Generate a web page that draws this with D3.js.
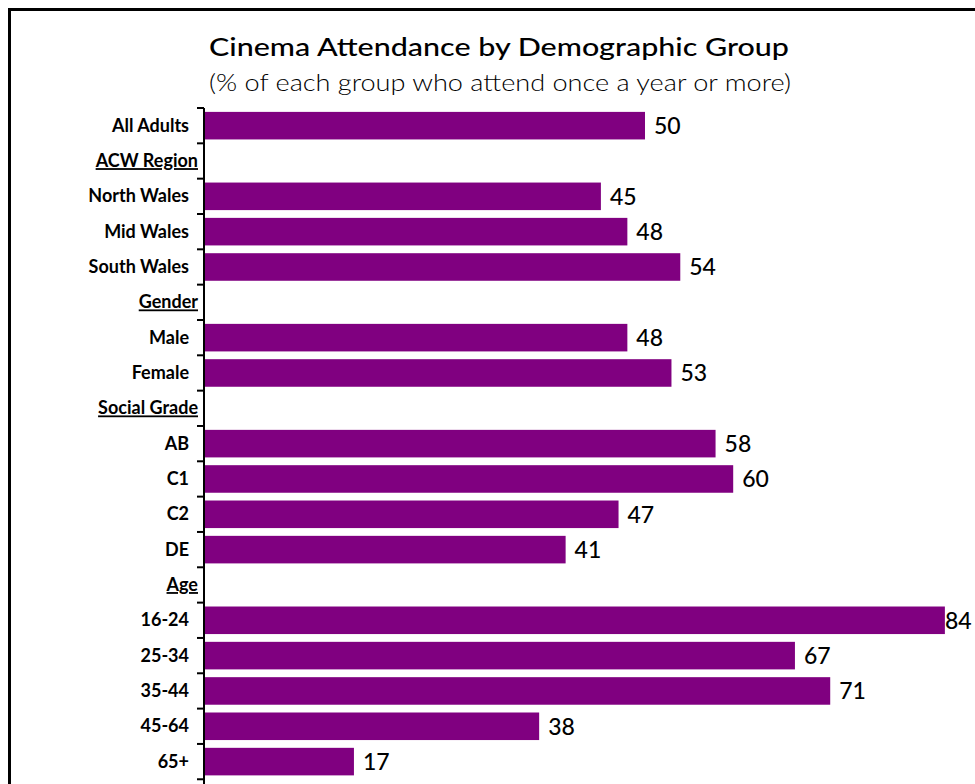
<!DOCTYPE html>
<html>
<head>
<meta charset="utf-8">
<script src="https://cdn.jsdelivr.net/npm/d3@7"></script>
<style>
  html, body { margin: 0; padding: 0; background: #fff; }
  svg { display: block; }
  text { font-family: Lato, "Open Sans", sans-serif; fill: #000; }
</style>
</head>
<body>
<script>
// Categories top to bottom; section headers carry no value
const categories = [
  "All Adults", "ACW Region", "North Wales", "Mid Wales", "South Wales",
  "Gender", "Male", "Female",
  "Social Grade", "AB", "C1", "C2", "DE",
  "Age", "16-24", "25-34", "35-44", "45-64", "65+"
];
const headers = ["ACW Region", "Gender", "Social Grade", "Age"];
// % of each group attending once a year or more (null = header row)
const values = [
  50, null, 45, 48, 54,
  null, 48, 53,
  null, 58, 60, 47, 41,
  null, 84, 67, 71, 38, 17
];
const titleText = "Cinema Attendance by Demographic Group";
const subtitleText = "(% of each group who attend once a year or more)";

(function draw() {
  const W = 975, H = 784;
  const svg = d3.select("body").append("svg").attr("width", W).attr("height", H);

  // Outer frame (extends past the visible area on the right and bottom)
  svg.append("rect")
    .attr("x", 9.5).attr("y", 9.5)
    .attr("width", W + 20).attr("height", H + 20)
    .attr("fill", "none").attr("stroke", "#000").attr("stroke-width", 3);

  svg.append("text")
    .attr("x", 209).attr("y", 56)
    .attr("font-size", 25).attr("font-weight", 500)
    .attr("textLength", 580).attr("lengthAdjust", "spacingAndGlyphs")
    .text(titleText);
  svg.append("text")
    .attr("x", 209).attr("y", 91)
    .attr("font-size", 24).attr("font-weight", 300)
    .attr("textLength", 582).attr("lengthAdjust", "spacingAndGlyphs")
    .text(subtitleText);

  const x0 = 204;
  const x = d3.scaleLinear().domain([0, 100]).range([x0, x0 + 882]);
  const y = d3.scaleBand().domain(categories).range([108, 108 + 19 * 35.33])
    .paddingInner(0.22).paddingOuter(0.11);

  const rows = categories.map((c, i) => ({ cat: c, v: values[i] }));

  // Bars
  svg.append("g").selectAll("rect")
    .data(rows.filter(d => d.v !== null))
    .join("rect")
    .attr("x", x(0))
    .attr("y", d => y(d.cat))
    .attr("width", d => x(d.v) - x(0))
    .attr("height", y.bandwidth())
    .attr("fill", "#800080");

  // Category axis: line with ticks at band boundaries
  const axis = svg.append("g");
  const step = y.step();
  const y0 = y.range()[0];
  axis.append("line")
    .attr("x1", x0).attr("x2", x0)
    .attr("y1", y0).attr("y2", H)
    .attr("stroke", "#000").attr("stroke-width", 2);
  axis.selectAll("line.tick")
    .data(d3.range(categories.length + 1))
    .join("line").attr("class", "tick")
    .attr("x1", x0 - 7).attr("x2", x0)
    .attr("y1", i => y0 + i * step).attr("y2", i => y0 + i * step)
    .attr("stroke", "#000").attr("stroke-width", 2);

  axis.selectAll("text")
    .data(rows)
    .join("text")
    .attr("x", d => headers.includes(d.cat) ? 198 : 189)
    .attr("y", d => y(d.cat) + y.bandwidth() / 2)
    .attr("dy", "0.34em")
    .attr("text-anchor", "end")
    .attr("font-size", 18)
    .attr("font-weight", 700)
    .style("text-decoration", d => headers.includes(d.cat) ? "underline" : null)
    .text(d => d.cat);

  // Value labels, kept inside the frame for the longest bar
  const rightLimit = 970;
  svg.append("g").selectAll("text")
    .data(rows.filter(d => d.v !== null))
    .join("text")
    .attr("y", d => y(d.cat) + y.bandwidth() / 2)
    .attr("dy", "0.36em")
    .attr("font-size", 23)
    .attr("font-weight", 500)
    .text(d => d.v)
    .each(function(d) {
      const w = this.getComputedTextLength();
      let px = x(d.v) + 9;
      if (px + w > rightLimit) px = x(d.v);
      d3.select(this).attr("x", px);
    });
})();
</script>
</body>
</html>
